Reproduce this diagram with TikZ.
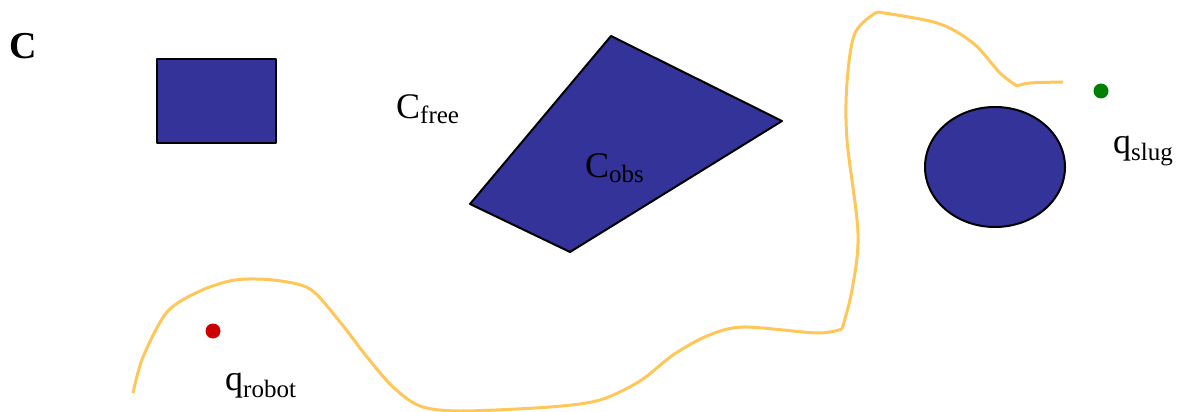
\documentclass[tikz,border=0pt]{standalone}
\usepackage{fontspec}
\setmainfont{Liberation Serif}
\definecolor{obsblue}{HTML}{333399}
\definecolor{pathorange}{HTML}{FFC65A}
\definecolor{robotred}{HTML}{CC0000}
\definecolor{sluggreen}{HTML}{008000}
\newcommand{\mainsz}{\fontsize{36}{36}\selectfont}
\newcommand{\subsz}{\fontsize{25}{25}\selectfont}
\begin{document}
\begin{tikzpicture}[x=1pt,y=-1pt,
  obstacle/.style={draw=black,line width=2pt,fill=obsblue,line join=round},
  lbl/.style={inner sep=0pt,anchor=base west,font=\mainsz},
  pathline/.style={draw=pathorange,line width=3pt,line join=round}]
\useasboundingbox (0,0) rectangle (1187,412);
% obstacles
\draw[obstacle] (157,59) rectangle (276,143);
\draw[obstacle] (611,36) -- (782,121) -- (570,252) -- (470,204) -- cycle;
\draw[obstacle] (995,167) ellipse [x radius=70, y radius=60];
% path
\draw[pathline] plot[smooth,tension=0.5] coordinates {
 (133,393) (143,357) (167,312) (200,291) (235,280) (273,280) (310,289)
 (340,322) (367,357) (393,387) (420,406) (460,411) (550,407) (600,400)
 (640,381) (673,355) (707,336) (743,327) (817,333) (842,329)};
\draw[pathline] plot[smooth,tension=0.55] coordinates {
 (842,329) (852,290) (858,233) (847,140) (847,83)
 (855,33) (877,12)};
\draw[pathline] plot[smooth,tension=0.55] coordinates {
 (877,12) (937,23) (973,43) (1000,73) (1017,86)};
\draw[pathline] plot[smooth,tension=0.55] coordinates {
 (1017,86) (1030,83) (1063,82)};
% points
\fill[robotred] (213,331) circle [radius=7.5];
\fill[sluggreen] (1101,91) circle [radius=7.5];
% labels
\node[lbl,font=\fontsize{38}{38}\selectfont\bfseries] (cspace) at (9,59) {C};
\node[lbl] (cfree) at (396,118) {C\raisebox{-5pt}{\subsz free}};
\node[lbl] (cobs) at (585,177) {C\raisebox{-5pt}{\subsz obs}};
\node[lbl] (qslug) at (1113,153) {q\raisebox{-8pt}{\subsz slug}};
\node[lbl] (qrobot) at (225,390) {q\raisebox{-7pt}{\subsz robot}};
\end{tikzpicture}
\end{document}
